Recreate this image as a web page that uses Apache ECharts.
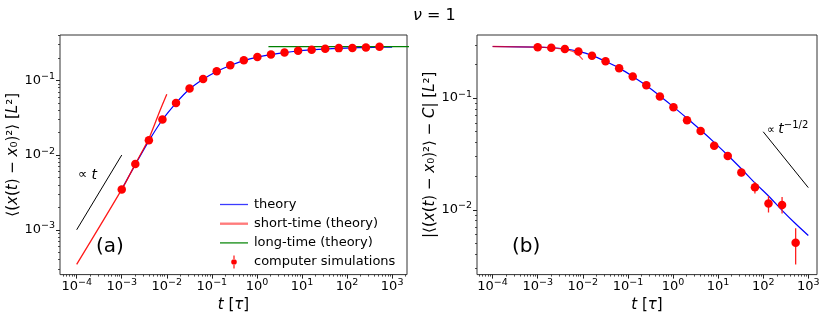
<!DOCTYPE html>
<html>
<head>
<meta charset="utf-8">
<script src="https://cdn.jsdelivr.net/npm/echarts@6/dist/echarts.min.js"></script>
<style>
html,body{margin:0;padding:0;background:#fff;}
#chart{width:830px;height:318px;}
</style>
</head>
<body>
<div id="chart"></div>
<script>
// ---------- data ----------
// simulation times (both panels)
const simT = [0.001,0.002,0.004,0.008,0.016,0.032,0.064,0.128,0.256,0.512,1.024,2.048,4.096,8.192,16.384,32.768,65.536,131.072,262.144,524.288];
// panel (a): MSD from simulations
const simA = [0.00347,0.00757,0.0158,0.0299,0.0498,0.0777,0.104,0.1327,0.159,0.1854,0.2055,0.2225,0.236,0.2488,0.2566,0.2644,0.270,0.272,0.2748,0.281];
// panel (a): theory curve
const thA_t = [0.001,0.002,0.004,0.008,0.016,0.032,0.064,0.128,0.256,0.512,1.024,2.048,4.096,8.192,16.384,32.768,65.536,131.072,262.144,524.288,1000];
const thA_y = [0.00347,0.00745,0.0155,0.0297,0.0497,0.0765,0.1035,0.1315,0.158,0.1835,0.2045,0.2215,0.2355,0.247,0.2555,0.2625,0.268,0.272,0.275,0.2775,0.2787];
// panel (a): short-time theory
const stA_t = [0.0001,0.001,0.002,0.004,0.007,0.01];
const stA_y = [0.000344,0.00347,0.00757,0.01667,0.039,0.0653];
// panel (a): long-time theory
const ltA_t = [1.8,3000];
const ltA_y = [0.2835,0.2835];
// panel (a): guide line ∝ t
const gA_t = [0.0001,0.001];
const gA_y = [0.001,0.01];

// panel (b): |MSD - C| from simulations
const simB = [0.286,0.2818,0.2747,0.2613,0.2399,0.2134,0.1849,0.1562,0.1303,0.1035,0.0828,0.0635,0.0508,0.0375,0.0303,0.02163,0.01596,0.01138,0.01107,0.00507];
// panel (b): error bars (only those visible)
const errB_t  = [32.768,65.536,131.072,262.144,524.288];
const errB_lo = [0.01995,0.01403,0.00946,0.00927,0.00324];
const errB_hi = [0.0228,0.01778,0.0133,0.01303,0.00684];
// panel (b): theory curve
const thB_t = [0.0001,0.001,0.002,0.004,0.008,0.016,0.032,0.064,0.128,0.256,0.512,1.024,2.048,4.096,8.192,16.384,32.768,65.536,131.072,262.144,524.288,1000];
const thB_y = [0.2897,0.2862,0.2825,0.2755,0.2625,0.2415,0.2135,0.1855,0.1565,0.1295,0.1045,0.0835,0.066,0.0518,0.0402,0.0308,0.0233,0.0174,0.0133,0.0099,0.0075,0.00589];
// panel (b): short-time theory
const stB_t = [0.0001,0.001,0.002,0.004,0.006,0.0075,0.01];
const stB_y = [0.2897,0.2863,0.2822,0.2735,0.262,0.249,0.221];
// panel (b): guide line ∝ t^-1/2
const gB_t = [100,1000];
const gB_y = [0.05,0.0158];

// tick label exponents
const xTickExp  = [-4,-3,-2,-1,0,1,2,3];
const yTickExpA = [-3,-2,-1];
const yTickExpB = [-2,-1];

// ---------- helpers ----------
const FONT = 'DejaVu Sans';
const lg = Math.log10;
const pairs = (t, y) => t.map((v, i) => [lg(v), lg(y[i])]);
function minorTicks(lo, hi) {
  const out = [];
  for (let n = Math.floor(lo) - 1; n <= Math.ceil(hi); n++) {
    for (let k = 2; k <= 9; k++) {
      const v = n + lg(k);
      if (v > lo && v < hi) out.push(v);
    }
  }
  return out;
}
const expTxt = v => { const r = Math.round(v); return r < 0 ? '\u2212' + (-r) : String(r); };
const tickRich = {
  b: {fontSize: 13, fontFamily: FONT, color: '#000', lineHeight: 18, verticalAlign: 'middle'},
  s: {fontSize: 9.5, fontFamily: FONT, color: '#000', lineHeight: 11, verticalAlign: 'top'}
};
const tickFmt = v => '{b|10}{s|' + expTxt(v) + '}';

const X_A = [-4.37, 3.33], Y_A = [-3.60, -0.393];
const X_B = [-4.346, 3.193], Y_B = [-2.58, -0.435];

function majorAxis(grid, range, vals, isX, extra) {
  return Object.assign({
    gridIndex: grid, type: 'value', min: range[0], max: range[1],
    position: isX ? 'bottom' : 'left',
    axisLine: {show: false, onZero: false},
    axisTick: {show: true, inside: false, length: 4, customValues: vals, lineStyle: {color: '#222', width: 1}},
    axisLabel: {customValues: vals, formatter: tickFmt, rich: tickRich, margin: isX ? 3 : 5},
    splitLine: {show: false}
  }, extra || {});
}
function minorAxis(grid, range, isX) {
  return {
    gridIndex: grid, type: 'value', min: range[0], max: range[1],
    position: isX ? 'bottom' : 'left',
    axisLine: {show: false, onZero: false},
    axisTick: {show: true, inside: false, length: 2, customValues: minorTicks(range[0], range[1]), lineStyle: {color: '#222', width: 0.8}},
    axisLabel: {show: false},
    splitLine: {show: false}
  };
}
const nameStyleX = {fontSize: 15, fontFamily: FONT, color: '#000', rich: {i: {fontStyle: 'italic', fontSize: 15, fontFamily: FONT}}};
const lineIcon = h => 'path://M0,0L26,0L26,' + h + 'L0,' + h + 'Z';

const option = {
  animation: false,
  backgroundColor: '#fff',
  title: {
    text: '{i|\u03bd} = 1', left: 408, top: 3,
    textStyle: {fontSize: 16, fontFamily: FONT, fontWeight: 'normal', color: '#000',
      rich: {i: {fontStyle: 'italic', fontSize: 16, fontFamily: FONT}}}
  },
  grid: [
    {left: 60, top: 35, width: 347, height: 243, show: true, borderColor: '#333', borderWidth: 1, backgroundColor: 'transparent'},
    {left: 477, top: 35, width: 340, height: 243, show: true, borderColor: '#333', borderWidth: 1, backgroundColor: 'transparent'}
  ],
  xAxis: [
    majorAxis(0, X_A, xTickExp, true, {name: '{i|t} [{i|\u03c4}]', nameLocation: 'middle', nameGap: 19, nameTextStyle: nameStyleX}),
    minorAxis(0, X_A, true),
    majorAxis(1, X_B, xTickExp, true, {name: '{i|t} [{i|\u03c4}]', nameLocation: 'middle', nameGap: 19, nameTextStyle: nameStyleX}),
    minorAxis(1, X_B, true)
  ],
  yAxis: [
    majorAxis(0, Y_A, yTickExpA, false, {name: '\u27e8({i|x}({i|t}) \u2212 {i|x}\u2080)\u00b2\u27e9 [{i|L}\u00b2]', nameLocation: 'middle', nameRotate: 90, nameGap: 38, nameTextStyle: nameStyleX}),
    minorAxis(0, Y_A, false),
    majorAxis(1, Y_B, yTickExpB, false, {name: '|\u27e8({i|x}({i|t}) \u2212 {i|x}\u2080)\u00b2\u27e9 \u2212 {i|C}| [{i|L}\u00b2]', nameLocation: 'middle', nameRotate: 90, nameGap: 38, nameTextStyle: nameStyleX}),
    minorAxis(1, Y_B, false)
  ],
  legend: {
    orient: 'vertical', left: 215, top: 193,
    itemWidth: 28, itemHeight: 13, itemGap: 6.2,
    textStyle: {fontSize: 13, fontFamily: FONT, color: '#000', lineHeight: 13, padding: [0, 0, 0, 1]},
    data: [
      {name: 'theory', icon: lineIcon(1.2), itemStyle: {color: '#3b3bff'}},
      {name: 'short-time (theory)', icon: lineIcon(2.2), itemStyle: {color: '#ff7b7b'}},
      {name: 'long-time (theory)', icon: lineIcon(1.2), itemStyle: {color: '#108a10'}},
      {name: 'computer simulations', icon: 'path://M2,7A3,3 0 1,0 8,7A3,3 0 1,0 2,7Z M4.4,0L5.6,0L5.6,4.5L4.4,4.5Z M4.4,9.5L5.6,9.5L5.6,14L4.4,14Z'}
    ]
  },
  graphic: [
    {type: 'text', x: 96, y: 247, style: {text: '(a)', fontSize: 20, fontFamily: FONT, fill: '#000', verticalAlign: 'middle'}},
    {type: 'text', x: 512, y: 247, style: {text: '(b)', fontSize: 20, fontFamily: FONT, fill: '#000', verticalAlign: 'middle'}},
    {type: 'text', x: 78, y: 175, style: {text: '\u221d {i|t}', fontSize: 13, fontFamily: FONT, fill: '#000', verticalAlign: 'middle',
      rich: {i: {fontStyle: 'italic', fontSize: 14, fontFamily: FONT}}}},
    {type: 'text', x: 767, y: 128, style: {text: '{a|\u221d }{i|t}{s|\u22121/2}', fill: '#000', verticalAlign: 'middle',
      rich: {
        a: {fontSize: 11, fontFamily: FONT, lineHeight: 16, verticalAlign: 'bottom'},
        i: {fontStyle: 'italic', fontSize: 14, fontFamily: FONT, lineHeight: 16, verticalAlign: 'bottom'},
        s: {fontSize: 10, fontFamily: FONT, lineHeight: 11, verticalAlign: 'top'}
      }}}
  ],
  series: [
    // ---- panel (a)
    {name: 'theory', type: 'line', xAxisIndex: 0, yAxisIndex: 0, data: pairs(thA_t, thA_y), symbol: 'none', smooth: 0.3,
      lineStyle: {color: '#0000ff', width: 1.2}, itemStyle: {color: '#0000ff'}, z: 2},
    {name: 'short-time (theory)', type: 'line', xAxisIndex: 0, yAxisIndex: 0, data: pairs(stA_t, stA_y), symbol: 'none', smooth: 0.3,
      lineStyle: {color: '#ff0000', width: 1.3, opacity: 0.9}, itemStyle: {color: '#ff0000'}, z: 3},
    {name: 'long-time (theory)', type: 'line', xAxisIndex: 0, yAxisIndex: 0, data: pairs(ltA_t, ltA_y), symbol: 'none',
      lineStyle: {color: '#008000', width: 1.2}, itemStyle: {color: '#008000'}, z: 3},
    {name: 'guideA', type: 'line', xAxisIndex: 0, yAxisIndex: 0, data: pairs(gA_t, gA_y), symbol: 'none',
      lineStyle: {color: '#000', width: 1}, z: 3},
    {name: 'computer simulations', type: 'scatter', xAxisIndex: 0, yAxisIndex: 0, data: pairs(simT, simA),
      symbol: 'circle', symbolSize: 8.5, itemStyle: {color: '#ff0000', opacity: 1}, z: 5},
    // ---- panel (b)
    {name: 'theory', type: 'line', xAxisIndex: 2, yAxisIndex: 2, data: pairs(thB_t, thB_y), symbol: 'none', smooth: 0.3,
      lineStyle: {color: '#0000ff', width: 1.2}, itemStyle: {color: '#0000ff'}, z: 2},
    {name: 'short-time (theory)', type: 'line', xAxisIndex: 2, yAxisIndex: 2, data: pairs(stB_t, stB_y), symbol: 'none', smooth: 0.3,
      lineStyle: {color: '#ff0000', width: 1.3, opacity: 0.7}, itemStyle: {color: '#ff0000'}, z: 3},
    {name: 'guideB', type: 'line', xAxisIndex: 2, yAxisIndex: 2, data: pairs(gB_t, gB_y), symbol: 'none',
      lineStyle: {color: '#000', width: 1}, z: 3},
    {name: 'errB', type: 'custom', xAxisIndex: 2, yAxisIndex: 2,
      data: errB_t.map((t, i) => [lg(t), lg(errB_lo[i]), lg(errB_hi[i])]),
      encode: {x: 0, y: [1, 2]},
      renderItem: function (params, api) {
        const p1 = api.coord([api.value(0), api.value(1)]);
        const p2 = api.coord([api.value(0), api.value(2)]);
        return {type: 'line', shape: {x1: p1[0], y1: p1[1], x2: p2[0], y2: p2[1]},
          style: {stroke: '#ff2020', lineWidth: 1.3}};
      }, z: 4},
    {name: 'computer simulations', type: 'scatter', xAxisIndex: 2, yAxisIndex: 2, data: pairs(simT, simB),
      symbol: 'circle', symbolSize: 8.5, itemStyle: {color: '#ff0000', opacity: 1}, z: 5}
  ]
};
const chart = echarts.init(document.getElementById('chart'), null, {renderer: 'canvas'});
chart.setOption(option);
</script>
</body>
</html>
